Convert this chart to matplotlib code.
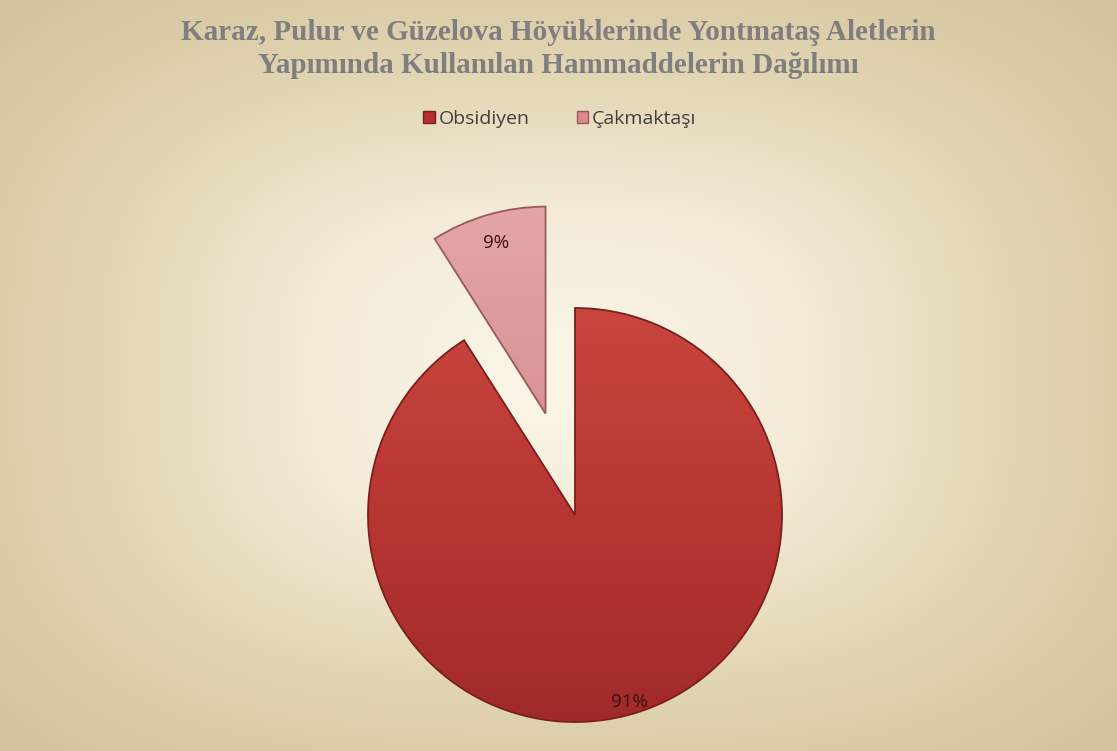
import numpy as np
import matplotlib
matplotlib.use("Agg")
import matplotlib.pyplot as plt
from matplotlib.colors import LinearSegmentedColormap

title = "Karaz, Pulur ve Güzelova Höyüklerinde Yontmataş Aletlerin\nYapımında Kullanılan Hammaddelerin Dağılımı"
labels = ["Obsidiyen", "Çakmaktaşı"]
shares = [91, 9]
pct_labels = ["91%", "9%"]
colors = ["#B5302F", "#D98A8C"]
# top -> bottom shading of each slice
shades = [["#C9463F", "#B73632", "#A02A2A"], ["#E4A5A5", "#D99495", "#C78284"]]
edge_colors = ["#7A1E1E", "#9A5A5C"]

W, H = 1117, 751
fig = plt.figure(figsize=(W / 100, H / 100), dpi=100)

# background: soft beige gradient, lighter in the middle
bg = fig.add_axes([0, 0, 1, 1])
yy, xx = np.mgrid[-1:1:300j, -1:1:400j]
d = (np.abs(xx * 0.95) ** 3 + np.abs(yy * 0.95) ** 3) ** (1 / 3)
bg_cmap = LinearSegmentedColormap.from_list("bg", ["#FAF5E7", "#F3EBD6", "#E2D5B3", "#D4C49C"])
bg.imshow(d, cmap=bg_cmap, vmin=0.05, vmax=1.15, aspect="auto", extent=[0, 1, 0, 1])
bg.set_axis_off()

# pie axes, placed in pixels so that radius 1 -> 207 px
cx, cy, r = 575, H - 515, 207
x0, x1, y0, y1 = -1.6, 1.6, -1.1, 1.7
ax = fig.add_axes([(cx + x0 * r) / W, (cy + y0 * r) / H, (x1 - x0) * r / W, (y1 - y0) * r / H])
wedges, _ = ax.pie(shares, startangle=90, counterclock=False, colors=colors,
                   explode=[0, 0.51], radius=1,
                   wedgeprops=dict(linewidth=1.3))
for w, ec, sh in zip(wedges, edge_colors, shades):
    w.set_edgecolor(ec)
    w.set_zorder(3)
    # gradient fill clipped to the slice
    cmap = LinearSegmentedColormap.from_list("sh", sh)
    bx, by = w.center
    grad = np.linspace(0, 1, 256).reshape(-1, 1)
    im = ax.imshow(grad, cmap=cmap, aspect="auto", origin="upper",
                   extent=[bx - 1, bx + 1, by - 1, by + 1], zorder=2)
    im.set_clip_path(w)
    w.set_facecolor("none")

# percentage labels
dists = [0.94, 0.86]
for w, txt, dist in zip(wedges, pct_labels, dists):
    mid = np.deg2rad((w.theta1 + w.theta2) / 2)
    px = w.center[0] + dist * np.cos(mid)
    py = w.center[1] + dist * np.sin(mid)
    ax.text(px, py, txt, ha="center", va="center", fontsize=13.5,
            color="#3A1212", family="Open Sans", zorder=5)
ax.set_xlim(x0, x1)
ax.set_ylim(y0, y1)
ax.set_aspect("equal")
ax.set_axis_off()

fig.text(0.5, 1 - 49 / H, title, ha="center", va="center", fontsize=21,
         fontweight="bold", family="Liberation Serif", color="#7F7F7F",
         linespacing=1.25)

handles = [plt.Rectangle((0, 0), 1, 1, facecolor=c, edgecolor=ec) for c, ec in zip(colors, edge_colors)]
fig.legend(handles, labels, loc="center", bbox_to_anchor=(560 / W, 1 - 119 / H), ncol=2,
           frameon=False, prop=dict(family="Open Sans", size=14),
           handlelength=0.6, handleheight=0.6, handletextpad=0.2, columnspacing=2.4,
           labelcolor="#404040")

fig.savefig("out.png", dpi=100)
